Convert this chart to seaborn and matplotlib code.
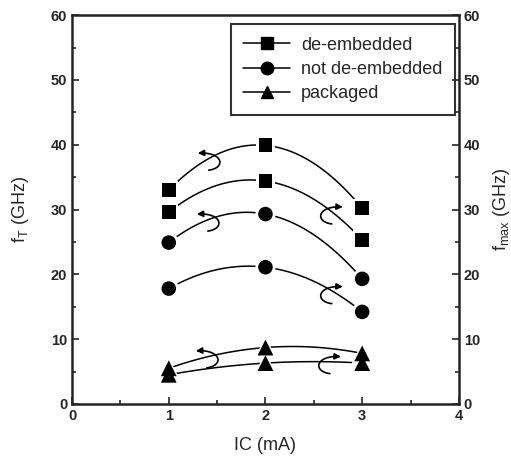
import numpy as np
import pandas as pd
import seaborn as sns
import matplotlib.pyplot as plt
from matplotlib.lines import Line2D
from matplotlib.patches import FancyArrowPatch
from matplotlib.path import Path
from matplotlib.ticker import MultipleLocator

# collector current (mA)
ic = [1, 2, 3]

# de-embedded (squares)
de_ft = [33.0, 39.9, 30.2]
de_fmax = [29.6, 34.4, 25.3]
# not de-embedded (circles)
nde_ft = [24.9, 29.3, 19.3]
nde_fmax = [17.8, 21.1, 14.2]
# packaged (triangles)
pkg_ft = [5.5, 8.7, 7.8]
pkg_fmax = [4.5, 6.3, 6.3]

curves = [
    ('s', 100, de_ft),
    ('s', 100, de_fmax),
    ('o', 110, nde_ft),
    ('o', 110, nde_fmax),
    ('^', 130, pkg_ft),
    ('^', 130, pkg_fmax),
]

sns.set_style("ticks")
plt.rcParams['font.family'] = ['Liberation Sans', 'DejaVu Sans']
plt.rcParams['mathtext.fontset'] = 'custom'
plt.rcParams['mathtext.rm'] = 'Liberation Sans'
plt.rcParams['mathtext.it'] = 'Liberation Sans'

fig = plt.figure(figsize=(5.11, 4.59), dpi=100)
ax = fig.add_axes([0.141, 0.120, 0.757, 0.847])

# smooth curves, then a white halo so the line stops short of each symbol,
# then the solid symbols on top
for mk, size, vals in curves:
    df = pd.DataFrame({'ic': ic, 'f': vals})
    sns.regplot(data=df, x='ic', y='f', order=2, ci=None, ax=ax,
                scatter=False, color='black', line_kws={'lw': 1.1, 'zorder': 2})
    sns.scatterplot(data=df, x='ic', y='f', ax=ax, marker=mk, s=size * 1.9,
                    color='white', edgecolor='none', zorder=3, legend=False)
for mk, size, vals in curves:
    df = pd.DataFrame({'ic': ic, 'f': vals})
    sns.scatterplot(data=df, x='ic', y='f', ax=ax, marker=mk, s=size,
                    color='black', edgecolor='none', zorder=4, legend=False)

ax.set_xlim(0, 4)
ax.set_ylim(0, 60)
ax.xaxis.set_major_locator(MultipleLocator(1))
ax.xaxis.set_minor_locator(MultipleLocator(0.5))
ax.yaxis.set_major_locator(MultipleLocator(10))
ax.yaxis.set_minor_locator(MultipleLocator(5))
ax.tick_params(which='both', direction='in', width=1.2)
ax.tick_params(which='major', length=5, labelsize=10.5)
ax.tick_params(which='minor', length=3)
for lab in ax.get_xticklabels() + ax.get_yticklabels():
    lab.set_fontweight('bold')
for sp in ax.spines.values():
    sp.set_linewidth(1.8)
    sp.set_visible(True)
ax.set_xlabel('IC (mA)', fontsize=13, labelpad=10)
ax.set_ylabel('f$_T$ (GHz)', fontsize=13, labelpad=14)

ax2 = ax.twinx()
ax2.set_ylim(0, 60)
ax2.yaxis.set_major_locator(MultipleLocator(10))
ax2.yaxis.set_minor_locator(MultipleLocator(5))
ax2.tick_params(which='both', direction='in', width=1.2)
ax2.tick_params(which='major', length=5, labelsize=10.5)
ax2.tick_params(which='minor', length=3)
for lab in ax2.get_yticklabels():
    lab.set_fontweight('bold')
ax2.set_ylabel('f$_{max}$ (GHz)', fontsize=13, labelpad=8)


# curly hook arrows pointing to the axis each curve belongs to
def hook(tip, side):
    # offsets in pixels (x, y up), turned into data units
    sx, sy = 4 / 387.0, 60 / 389.0
    pts = [(11, -17), (28, -15), (26, 1), (0, 0)]
    verts = [(tip[0] + side * px * sx, tip[1] + py * sy) for px, py in pts]
    p = Path(verts, [Path.MOVETO, Path.CURVE4, Path.CURVE4, Path.CURVE4])
    ax.add_patch(FancyArrowPatch(path=p, arrowstyle='-|>', mutation_scale=9,
                                 color='black', lw=1.2, zorder=5))


for tip in [(1.30, 38.7), (1.29, 29.3), (1.28, 8.2)]:
    hook(tip, 1)
for tip in [(2.80, 30.4), (2.80, 18.1), (2.78, 7.3)]:
    hook(tip, -1)

handles = [Line2D([], [], color='black', marker=m, markersize=9, lw=1.1)
           for m in ['s', 'o', '^']]
leg = ax.legend(handles, ['de-embedded', 'not de-embedded', 'packaged'],
                loc='upper right', bbox_to_anchor=(0.99, 0.977),
                fontsize=13, frameon=True, fancybox=False, edgecolor='black',
                handlelength=2.6, handletextpad=0.6, borderpad=0.7,
                labelspacing=0.4, borderaxespad=0)
leg.get_frame().set_linewidth(1.5)

plt.savefig('out.png', dpi=100)
